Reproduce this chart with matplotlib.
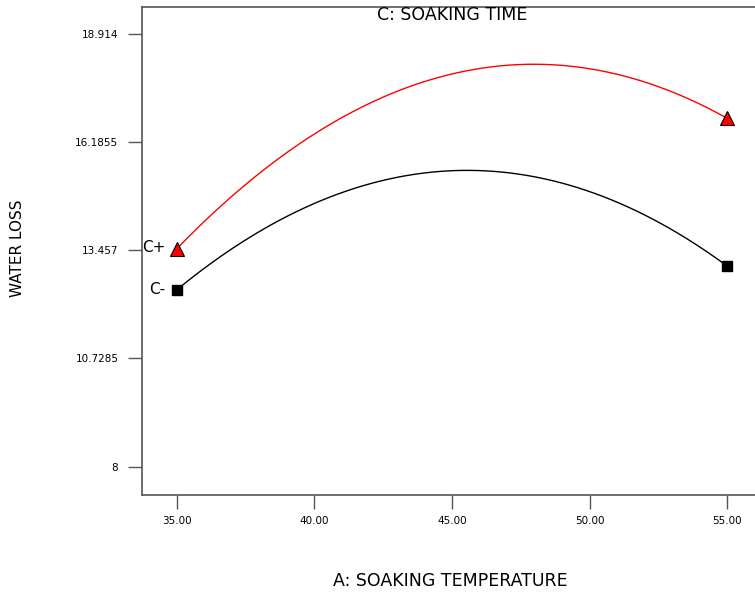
import numpy as np
import matplotlib
matplotlib.use("Agg")
import matplotlib.pyplot as plt

plt.rcParams['font.family'] = ['DejaVu Sans']

# Data
temp = [35, 40, 45, 50, 55]
c_minus = [12.454, 14.65, 15.46, 14.92, 13.06]
c_plus = [13.49, 16.39, 17.92, 18.00, 16.79]
end_temps = [35, 55]
c_minus_pts = [12.454, 13.06]
c_plus_pts = [13.49, 16.79]
yticks = [8, 10.7285, 13.457, 16.1855, 18.914]
ytick_labels = ["8", "10.7285", "13.457", "16.1855", "18.914"]
xticks = [35, 40, 45, 50, 55]
xtick_labels = ["35.00", "40.00", "45.00", "50.00", "55.00"]

fig = plt.figure(figsize=(7.55, 5.96), dpi=100)
ax = fig.add_axes([0.188, 0.1695, 0.830, 0.8188])

xs = np.linspace(35, 55, 200)
pm = np.polyfit(temp, c_minus, 2)
pp = np.polyfit(temp, c_plus, 2)
ax.plot(xs, np.polyval(pm, xs), color='black', lw=1.0)
ax.plot(xs, np.polyval(pp, xs), color='red', lw=1.0)
ax.plot(end_temps, c_minus_pts, 's', color='black', ms=7, mec='black')
ax.plot(end_temps, c_plus_pts, '^', color='red', ms=10, mec='black', mew=0.8)

ax.text(34.58, c_plus_pts[0] + 0.03, "C+", fontsize=11, ha='right', va='center')
ax.text(34.58, c_minus_pts[0], "C-", fontsize=11, ha='right', va='center')

ax.set_xlim(33.73, 56.5)
ax.set_ylim(7.287, 19.587)
ax.set_yticks(yticks)
ax.set_yticklabels(ytick_labels, fontsize=7.5)
ax.set_xticks(xticks)
ax.set_xticklabels(xtick_labels, fontsize=7.5)
ax.tick_params(axis='y', direction='out', length=10, width=1, color='#555555', pad=7)
ax.tick_params(axis='x', direction='out', length=10, width=1, color='#555555', pad=5)
for s in ['left', 'top', 'bottom', 'right']:
    ax.spines[s].set_color('#555555')
    ax.spines[s].set_linewidth(1.2)

fig.text(452/755, 1 - 15/596, "C: SOAKING TIME", fontsize=12.5, ha='center', va='center')
fig.text(450/755, 1 - 581/596, "A: SOAKING TEMPERATURE", fontsize=12.5, ha='center', va='center')
fig.text(18/755, 1 - 248/596, "WATER LOSS", fontsize=11, ha='center', va='center', rotation=90)

fig.savefig("out.png", dpi=100)
